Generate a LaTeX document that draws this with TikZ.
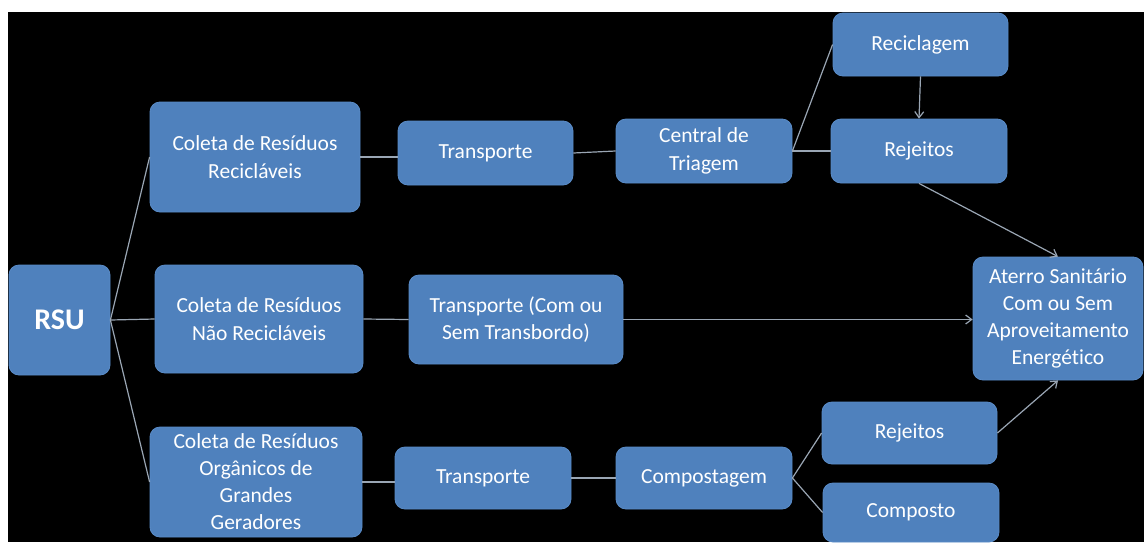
\documentclass[tikz,border=0pt]{standalone}
\usepackage{fontspec}
\setmainfont{Carlito}[Ligatures={NoCommon}]
\usetikzlibrary{arrows.meta}
\definecolor{boxblue}{HTML}{4F81BD}
\definecolor{boxedge}{HTML}{5A8CC8}
\definecolor{linegray}{HTML}{9AA6B4}
\tikzset{
  bx/.style={rectangle, rounded corners=10pt, fill=boxblue, draw=boxedge, line width=0.8pt,
    text=white, align=center, inner sep=2pt, font=\fontsize{21.5}{27.5}\selectfont},
  conn/.style={draw=linegray, line width=1.2pt},
  arr/.style={conn, -{Straight Barb[length=6pt,width=9pt]}}
}
\begin{document}
\begin{tikzpicture}[x=1pt,y=-1pt]
\fill[white] (0,0) rectangle (1144,542);
\fill[black] (8,12) rectangle (1144,542);
\useasboundingbox (0,0) rectangle (1144,542);
\node[bx, minimum width=101pt, minimum height=110pt, font=\bfseries\fontsize{30}{32}\selectfont] (rsu) at (59.5,320) {RSU};
\node[bx, minimum width=210pt, minimum height=110pt] (cr) at (255,157) {Coleta de Resíduos\\Recicláveis};
\node[bx, minimum width=208pt, minimum height=108pt] (cn) at (259,319) {Coleta de Resíduos\\Não Recicláveis};
\node[bx, minimum width=212pt, minimum height=110pt, font=\fontsize{21.5}{27}\selectfont] (co) at (256,482) {Coleta de Resíduos\\Orgânicos de\\Grandes\\Geradores};
\node[bx, minimum width=175pt, minimum height=64pt] (t1) at (485.5,153) {Transporte};
\node[bx, minimum width=176pt, minimum height=64pt] (ct) at (704,151) {Central de\\Triagem};
\node[bx, minimum width=175pt, minimum height=63pt] (rec) at (920.5,44.5) {Reciclagem};
\node[bx, minimum width=176pt, minimum height=64pt] (rj1) at (919,151) {Rejeitos};
\node[bx, minimum width=170pt, minimum height=123pt, font=\fontsize{21.5}{27}\selectfont] (at) at (1058,318.5) {Aterro Sanitário\\Com ou Sem\\Aproveitamento\\Energético};
\node[bx, minimum width=214pt, minimum height=89pt] (tc) at (516,319.5) {Transporte (Com ou\\Sem Transbordo)};
\node[bx, minimum width=176pt, minimum height=62pt] (t2) at (483,478) {Transporte};
\node[bx, minimum width=176pt, minimum height=62pt] (cp) at (704,478) {Compostagem};
\node[bx, minimum width=175pt, minimum height=62pt] (rj2) at (909.5,433) {Rejeitos};
\node[bx, minimum width=176pt, minimum height=59pt] (cps) at (911,512.5) {Composto};
\draw[conn] (rsu.east) -- (cr.west);
\draw[conn] (rsu.east) -- (cn.west);
\draw[conn] (rsu.east) -- (co.west);
\draw[conn] (cr.east) -- (cr.east -| t1.west);
\draw[conn] (t1.east) -- (ct.west);
\draw[conn] (ct.east) -- (rec.west);
\draw[conn] (ct.east) -- (rj1.west);
\draw[arr] (rec.south) -- (rj1.north);
\draw[arr] (rj1.south) -- (at.north);
\draw[conn] (cn.east) -- (tc.west);
\draw[arr] (tc.east) -- (tc.east -| at.west);
\draw[conn] (co.east) -- (co.east -| t2.west);
\draw[conn] (t2.east) -- (cp.west);
\draw[conn] (cp.east) -- (rj2.west);
\draw[conn] (cp.east) -- (cps.west);
\draw[arr] (rj2.east) -- (at.south);
\end{tikzpicture}
\end{document}
